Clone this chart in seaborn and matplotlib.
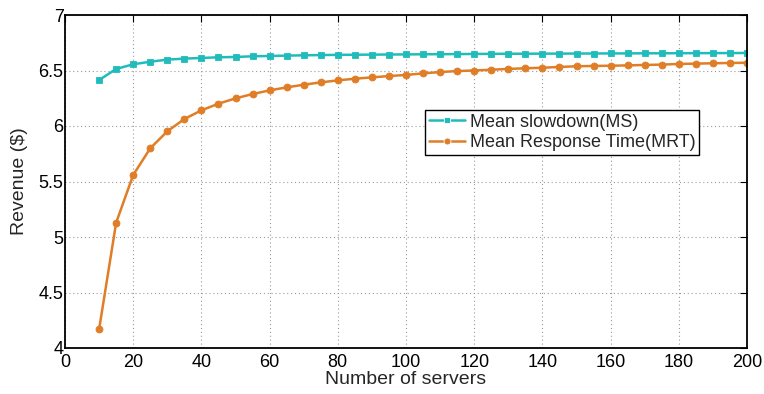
import numpy as np
import pandas as pd
import matplotlib
matplotlib.use('Agg')
import matplotlib.pyplot as plt
import seaborn as sns

# number of servers
servers = list(range(10, 201, 5))

# revenue, mean slowdown policy
ms_revenue = [6.414, 6.514, 6.556, 6.579, 6.598, 6.607, 6.613, 6.619, 6.622, 6.628,
              6.631, 6.634, 6.637, 6.639, 6.641, 6.642, 6.643, 6.644, 6.645, 6.646,
              6.647, 6.648, 6.649, 6.650, 6.651, 6.651, 6.652, 6.652, 6.653, 6.653,
              6.654, 6.654, 6.655, 6.655, 6.656, 6.656, 6.657, 6.657, 6.658]

# revenue, mean response time policy
mrt_revenue = [4.168, 5.129, 5.559, 5.799, 5.952, 6.063, 6.141, 6.201, 6.249, 6.288,
               6.321, 6.348, 6.372, 6.393, 6.411, 6.426, 6.438, 6.450, 6.460, 6.474,
               6.486, 6.495, 6.500, 6.507, 6.514, 6.520, 6.525, 6.532, 6.538, 6.541,
               6.543, 6.546, 6.550, 6.553, 6.559, 6.562, 6.565, 6.568, 6.570]

series_names = ['Mean slowdown(MS)', 'Mean Response Time(MRT)']
x_ticks = [0, 20, 40, 60, 80, 100, 120, 140, 160, 180, 200]
y_ticks = [4, 4.5, 5, 5.5, 6, 6.5, 7]
y_labels = ['4', '4.5', '5', '5.5', '6', '6.5', '7']

df = pd.DataFrame({
    'servers': servers * 2,
    'revenue': ms_revenue + mrt_revenue,
    'policy': [series_names[0]] * len(servers) + [series_names[1]] * len(servers),
})

sns.set_style('white')
plt.rcParams['font.family'] = ['Liberation Sans', 'DejaVu Sans']

fig = plt.figure(figsize=(7.64, 3.94), dpi=100)
ax = fig.add_axes([65 / 764, 1 - 348 / 394, 682 / 764, 333 / 394])

colors = {series_names[0]: '#20bcbc', series_names[1]: '#e07d27'}
sns.lineplot(data=df, x='servers', y='revenue', hue='policy', style='policy',
             markers={series_names[0]: 's', series_names[1]: 'o'},
             dashes=False, palette=colors, linewidth=1.8, markersize=5,
             markeredgewidth=0.6, ax=ax)

for ln in ax.get_lines()[:2]:
    ln.set_markeredgecolor(ln.get_color())

ax.set_xlim(0, 200)
ax.set_ylim(4, 7)
ax.set_xticks(x_ticks)
ax.set_yticks(y_ticks)
ax.set_yticklabels(y_labels)
ax.grid(True, linestyle=(0, (1, 2.5)), color='#999999', linewidth=0.8)
ax.tick_params(direction='in', top=True, right=True, length=5, width=0.8,
               labelsize=13, colors='black')
ax.tick_params(axis='y', pad=1)
ax.tick_params(axis='x', pad=4)
for s in ax.spines.values():
    s.set_color('black')
    s.set_linewidth(1.3)

ax.set_xlabel('Number of servers', fontsize=14, labelpad=0)
ax.set_ylabel('Revenue ($)', fontsize=14, labelpad=8)

leg = ax.legend(loc='upper left', bbox_to_anchor=(0.528, 0.715), fontsize=13,
                frameon=True, fancybox=False, edgecolor='black', framealpha=1,
                borderpad=0.2, handlelength=2.0, handletextpad=0.3,
                labelspacing=0.2, borderaxespad=0)
leg.get_frame().set_linewidth(1.0)

fig.savefig('out.png', dpi=100)
